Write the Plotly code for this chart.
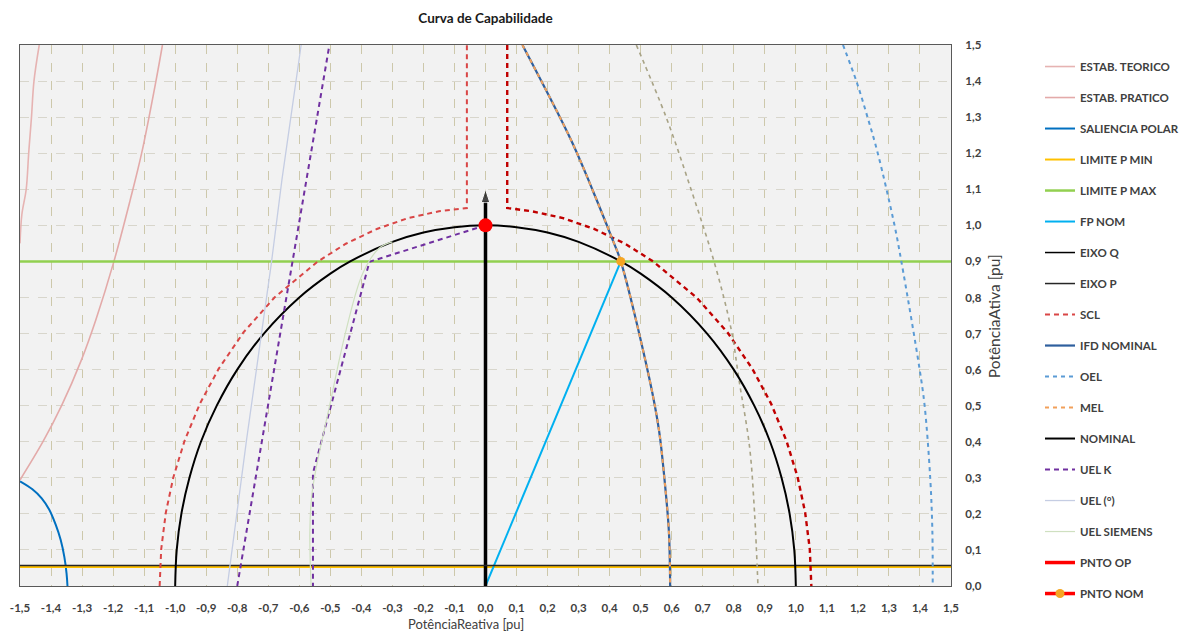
import plotly.graph_objects as go

# ---- axis ticks -------------------------------------------------------
X_TICK_VALS = [-1.5, -1.4, -1.3, -1.2, -1.1, -1.0, -0.9, -0.8, -0.7, -0.6, -0.5, -0.4,
               -0.3, -0.2, -0.1, 0.0, 0.1, 0.2, 0.3, 0.4, 0.5, 0.6, 0.7, 0.8, 0.9, 1.0,
               1.1, 1.2, 1.3, 1.4, 1.5]
X_TICK_TEXT = ["-1,5", "-1,4", "-1,3", "-1,2", "-1,1", "-1,0", "-0,9", "-0,8", "-0,7",
               "-0,6", "-0,5", "-0,4", "-0,3", "-0,2", "-0,1", "0,0", "0,1", "0,2", "0,3",
               "0,4", "0,5", "0,6", "0,7", "0,8", "0,9", "1,0", "1,1", "1,2", "1,3", "1,4",
               "1,5"]
Y_TICK_VALS = [0.0, 0.1, 0.2, 0.3, 0.4, 0.5, 0.6, 0.7, 0.8, 0.9, 1.0, 1.1, 1.2, 1.3, 1.4, 1.5]
Y_TICK_TEXT = ["0,0", "0,1", "0,2", "0,3", "0,4", "0,5", "0,6", "0,7", "0,8", "0,9", "1,0",
               "1,1", "1,2", "1,3", "1,4", "1,5"]

# ---- curves (Q = reactive power, P = active power, in pu) -------------
ESTAB_TEORICO_Q = [-1.5, -1.494, -1.48, -1.472, -1.463, -1.455, -1.438]
ESTAB_TEORICO_P = [0.95, 1.03, 1.10, 1.20, 1.30, 1.40, 1.50]

ESTAB_PRATICO_Q = [-1.5, -1.426, -1.366, -1.302, -1.256, -1.198, -1.145, -1.108, -1.062, -1.041]
ESTAB_PRATICO_P = [0.294, 0.40, 0.50, 0.627, 0.737, 0.898, 1.07, 1.20, 1.40, 1.50]

SALIENCIA_Q = [-1.5, -1.46, -1.43, -1.406, -1.385, -1.369, -1.357, -1.35, -1.347]
SALIENCIA_P = [0.29, 0.268, 0.243, 0.212, 0.17, 0.128, 0.08, 0.035, 0.0]

P_MIN_Q = [-1.5, 1.5]
P_MIN_P = [0.053, 0.053]

P_MAX_Q = [-1.5, 1.5]
P_MAX_P = [0.9, 0.9]

FP_NOM_Q = [0.0, 0.436]
FP_NOM_P = [0.0, 0.9]

EIXO_Q_Q = [0.0, 0.0]
EIXO_Q_P = [0.0, 1.1]

EIXO_P_Q = [-1.5, 1.5]
EIXO_P_P = [0.057, 0.057]

SCL_LEFT_Q = [-1.05, -1.045, -1.03, -1.006, -0.97, -0.92, -0.86, -0.78, -0.68, -0.54,
              -0.45, -0.35, -0.25, -0.15, -0.06, -0.06]
SCL_LEFT_P = [0.0, 0.102, 0.204, 0.301, 0.402, 0.506, 0.602, 0.703, 0.80, 0.90,
              0.949, 0.99, 1.02, 1.039, 1.048, 1.5]
SCL_RIGHT_Q = [0.07, 0.07, 0.15, 0.25, 0.35, 0.45, 0.54, 0.68, 0.78, 0.86, 0.92, 0.97,
               1.006, 1.03, 1.045, 1.05]
SCL_RIGHT_P = [1.5, 1.048, 1.039, 1.02, 0.99, 0.949, 0.90, 0.80, 0.703, 0.602, 0.506,
               0.402, 0.301, 0.204, 0.102, 0.0]

IFD_Q = [0.119, 0.276, 0.345, 0.41, 0.436, 0.529, 0.559, 0.577, 0.591, 0.595]
IFD_P = [1.5, 1.236, 1.098, 0.959, 0.9, 0.571, 0.432, 0.294, 0.15, 0.0]

OEL_Q = [1.152, 1.195, 1.231, 1.264, 1.318, 1.34, 1.399, 1.415, 1.433, 1.44, 1.441]
OEL_P = [1.5, 1.4, 1.3, 1.2, 1.0, 0.9, 0.6, 0.5, 0.3, 0.15, 0.0]

OEL_AUX_Q = [0.486, 0.582, 0.663, 0.738, 0.792, 0.817, 0.851, 0.867, 0.878]
OEL_AUX_P = [1.5, 1.3, 1.098, 0.895, 0.71, 0.571, 0.385, 0.202, 0.0]

MEL_Q = [0.119, 0.276, 0.345, 0.41, 0.436, 0.529, 0.559, 0.577, 0.591, 0.595]
MEL_P = [1.5, 1.236, 1.098, 0.959, 0.9, 0.571, 0.432, 0.294, 0.15, 0.0]

NOMINAL_Q = [-1.0, -0.995, -0.98, -0.954, -0.917, -0.866, -0.8, -0.714, -0.6, -0.5,
             -0.436, -0.3, -0.2, -0.1, 0.0, 0.1, 0.2, 0.3, 0.436, 0.5, 0.6, 0.714, 0.8,
             0.866, 0.917, 0.954, 0.98, 0.995, 1.0]
NOMINAL_P = [0.0, 0.1, 0.2, 0.3, 0.4, 0.5, 0.6, 0.7, 0.8, 0.866, 0.9, 0.954, 0.98, 0.995,
             1.0, 0.995, 0.98, 0.954, 0.9, 0.866, 0.8, 0.7, 0.6, 0.5, 0.4, 0.3, 0.2, 0.1,
             0.0]

UEL_K_Q = [-0.80, -0.503, None, 0.0, -0.374, -0.556, -0.556]
UEL_K_P = [0.0, 1.5, None, 1.0, 0.899, 0.313, 0.0]

UEL_GRAU_Q = [-0.832, -0.77, -0.69, -0.656, -0.594]
UEL_GRAU_P = [0.0, 0.405, 0.895, 1.126, 1.5]

UEL_SIEMENS_Q = [-0.562, -0.566, -0.56, -0.545, -0.503, -0.449, -0.395, -0.342, -0.30]
UEL_SIEMENS_P = [0.0, 0.15, 0.25, 0.33, 0.497, 0.71, 0.868, 0.937, 0.954]

PNTO_OP_Q = [0.0]
PNTO_OP_P = [1.0]

PNTO_NOM_Q = [0.436]
PNTO_NOM_P = [0.9]

fig = go.Figure()


def add_line(name, q, p, color, width=2, dash="solid", shape="linear", group=None,
             showlegend=True):
    fig.add_trace(go.Scatter(
        x=q, y=p, name=name, mode="lines",
        line=dict(color=color, width=width, dash=dash, shape=shape),
        legendgroup=group or name, showlegend=showlegend, hoverinfo="skip",
    ))


add_line("ESTAB. TEORICO", ESTAB_TEORICO_Q, ESTAB_TEORICO_P, "#e6b3b2", 1.6, shape="spline")
add_line("ESTAB. PRATICO", ESTAB_PRATICO_Q, ESTAB_PRATICO_P, "#e3aaa9", 1.6, shape="spline")
add_line("SALIENCIA POLAR", SALIENCIA_Q, SALIENCIA_P, "#0070c0", 2, shape="spline")
add_line("LIMITE P MIN", P_MIN_Q, P_MIN_P, "#ffc000", 2)
add_line("LIMITE P MAX", P_MAX_Q, P_MAX_P, "#92d050", 2.5)
add_line("FP NOM", FP_NOM_Q, FP_NOM_P, "#00b0f0", 2)

# vertical axis arrow: legend entry, thick shaft and arrow head
add_line("EIXO Q", [None], [None], "#000000", 1.5)
fig.add_trace(go.Scatter(
    x=EIXO_Q_Q, y=EIXO_Q_P, name="EIXO Q", mode="lines+markers",
    line=dict(color="#000000", width=3.5),
    marker=dict(symbol="arrow", angleref="previous", size=[0, 14], color="#000000"),
    legendgroup="EIXO Q", showlegend=False, hoverinfo="skip",
))

add_line("EIXO P", EIXO_P_Q, EIXO_P_P, "#262626", 1.5)
add_line("SCL", SCL_LEFT_Q, SCL_LEFT_P, "#d94646", 2, dash="5px,4px", group="SCL")
add_line("SCL", SCL_RIGHT_Q, SCL_RIGHT_P, "#c00000", 2.4, dash="5px,4px", group="SCL",
         showlegend=False)
add_line("IFD NOMINAL", IFD_Q, IFD_P, "#2e5f9e", 2.2, shape="spline")
add_line("OEL", OEL_Q, OEL_P, "#5b9bd5", 2, dash="4px,4px", shape="spline")
add_line("OEL AUX", OEL_AUX_Q, OEL_AUX_P, "#a8a386", 1.6, dash="4px,4px", shape="spline",
         group="OEL", showlegend=False)
add_line("MEL", MEL_Q, MEL_P, "#f2a05a", 2, dash="4px,4px", shape="spline")
add_line("NOMINAL", NOMINAL_Q, NOMINAL_P, "#000000", 2, shape="spline")
add_line("UEL K", UEL_K_Q, UEL_K_P, "#7030a0", 2, dash="5px,4px")
add_line("UEL (°)", UEL_GRAU_Q, UEL_GRAU_P, "#c5cde3", 1.3)
add_line("UEL SIEMENS", UEL_SIEMENS_Q, UEL_SIEMENS_P, "#cfe0c0", 1.2, shape="spline")

# operating point: thick red line in the legend, red dot on the chart
add_line("PNTO OP", PNTO_OP_Q, PNTO_OP_P, "#ff0000", 3.5)
fig.add_trace(go.Scatter(
    x=PNTO_OP_Q, y=PNTO_OP_P, name="PNTO OP", mode="markers",
    marker=dict(color="#ff0000", size=14), legendgroup="PNTO OP", showlegend=False,
    hoverinfo="skip",
))
fig.add_trace(go.Scatter(
    x=PNTO_NOM_Q, y=PNTO_NOM_P, name="PNTO NOM", mode="lines+markers",
    line=dict(color="#ff0000", width=3.5),
    marker=dict(color="#f5a623", size=9), legendgroup="PNTO NOM", hoverinfo="skip",
))

FONT = "Lato, Carlito, Liberation Sans, sans-serif"
TEXT = "#404040"

fig.update_layout(
    width=1181, height=635,
    margin=dict(l=20, r=230, t=45, b=49, autoexpand=False),
    paper_bgcolor="#ffffff",
    plot_bgcolor="#f2f2f2",
    font=dict(family=FONT, size=11, color=TEXT),
    title=dict(text="<b>Curva de Capabilidade</b>", x=0.5, xref="paper", xanchor="center",
               y=0.972, yanchor="middle", font=dict(family=FONT, size=13.5, color="#1a1a1a")),
    showlegend=True,
    legend=dict(
        xref="container", x=1040 / 1181, xanchor="left", y=0.987, yanchor="top",
        traceorder="grouped", tracegroupgap=12,
        font=dict(family=FONT, size=11.5, color=TEXT, weight="bold"),
        bgcolor="rgba(0,0,0,0)",
    ),
    xaxis=dict(
        range=[-1.5, 1.5], tickvals=X_TICK_VALS, ticktext=X_TICK_TEXT,
        showgrid=True, gridcolor="#cdc8ab", griddash="dash", gridwidth=1,
        zeroline=False, showline=True, linecolor="#595959", linewidth=1, mirror=True,
        ticks="", ticklabelstandoff=11,
        tickfont=dict(family=FONT, size=11.5, color=TEXT, weight="bold"),
    ),
    yaxis=dict(
        range=[0, 1.5], side="right", tickvals=Y_TICK_VALS, ticktext=Y_TICK_TEXT,
        showgrid=True, gridcolor="#d8d6cc", griddash="dash", gridwidth=1,
        zeroline=False, showline=True, linecolor="#595959", linewidth=1, mirror=True,
        ticks="", ticklabelstandoff=11,
        tickfont=dict(family=FONT, size=11.5, color=TEXT, weight="bold"),
    ),
    annotations=[
        dict(text="PotênciaReativa [pu]", xref="paper", yref="paper", x=0.479, y=-0.0702,
             xanchor="center", yanchor="middle", showarrow=False,
             font=dict(family=FONT, size=13, color=TEXT)),
        dict(text="PotênciaAtiva [pu]", xref="paper", yref="paper", x=1.0463, y=0.499,
             xanchor="center", yanchor="middle", textangle=-90, showarrow=False,
             font=dict(family=FONT, size=15.5, color=TEXT)),
    ],
)

# let the legend use the full height of the page
try:
    fig.update_layout(legend_maxheight=600)
except ValueError:
    pass

fig.write_html("out.html")
